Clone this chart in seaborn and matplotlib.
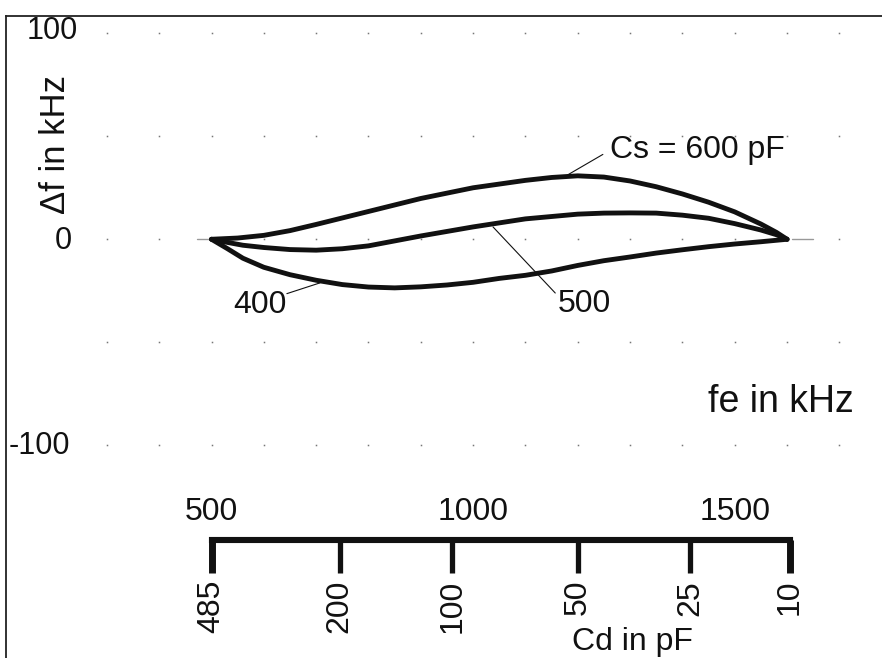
import numpy as np
import pandas as pd
import matplotlib
matplotlib.use("Agg")
import matplotlib.pyplot as plt
import matplotlib.transforms as mtransforms
import seaborn as sns

# ---------------- data ----------------
fe_600 = [500, 550, 600, 650, 700, 800, 900, 1000, 1100, 1150, 1200, 1250, 1300, 1350, 1400, 1450, 1500, 1550, 1580, 1600]
df_600 = [0, 0.6, 1.9, 4.2, 7.2, 13.5, 19.8, 25.0, 28.6, 30.0, 30.8, 30.2, 28.3, 25.5, 22.0, 18.0, 13.3, 7.4, 3.3, 0]

fe_500 = [500, 530, 560, 600, 650, 700, 750, 800, 850, 900, 1000, 1100, 1200, 1250, 1300, 1350, 1400, 1450, 1500, 1550, 1580, 1600]
df_500 = [0, -1.5, -2.9, -4.0, -5.0, -5.3, -4.6, -3.2, -0.8, 1.6, 6.0, 9.9, 12.2, 12.7, 12.8, 12.7, 11.7, 10.2, 7.6, 4.5, 2.2, 0]

fe_400 = [500, 530, 560, 600, 650, 700, 750, 800, 850, 900, 950, 1000, 1050, 1100, 1150, 1200, 1250, 1300, 1350, 1400, 1450, 1500, 1550, 1600]
df_400 = [0, -4.5, -9.2, -13.6, -17.2, -19.9, -22.0, -23.2, -23.6, -23.1, -22.2, -20.9, -19.0, -17.5, -15.4, -12.7, -10.4, -8.6, -6.7, -5.1, -3.6, -2.3, -1.2, 0]

y_ticks = [100, 0, -100]
y_tick_labels = ["100", "0", "-100"]

fe_scale_vals = [500, 1000, 1500]
cd_labels = ["485", "200", "100", "50", "25", "10"]
cd_fe_pos = [500, 745, 960, 1200, 1415, 1605]

grid_fe = list(range(300, 1701, 100))
grid_df = [100, 50, 0, -50, -100]

# ---------------- style ----------------
sns.set_theme(style="white")
plt.rcParams["font.family"] = ["Liberation Sans", "DejaVu Sans"]

W, H = 882, 658
fig = plt.figure(figsize=(W / 100, H / 100), dpi=100)
fig.patch.set_facecolor("white")
ax = fig.add_axes([6 / W, 0, 1 - 6 / W, 1 - 16 / H])
ax.set_facecolor("white")
ax.set_xlim(107.2, 1781.5)
ax.set_ylim(-203.3, 108.4)
for s in ["right", "bottom"]:
    ax.spines[s].set_visible(False)
for s in ["left", "top"]:
    ax.spines[s].set_color("#222222")
    ax.spines[s].set_linewidth(1.3)
ax.set_xticks([])
ax.set_yticks([])

ink = "#111111"

# grid dots
gx, gy = np.meshgrid(grid_fe, grid_df)
ax.plot(gx.ravel(), gy.ravel(), linestyle="none", marker="s", ms=1.1,
        color="#777777", mew=0, zorder=1)

# curves
long = pd.concat([
    pd.DataFrame({"fe": fe_600, "df": df_600, "Cs": "600"}),
    pd.DataFrame({"fe": fe_500, "df": df_500, "Cs": "500"}),
    pd.DataFrame({"fe": fe_400, "df": df_400, "Cs": "400"}),
], ignore_index=True)
sns.lineplot(data=long, x="fe", y="df", hue="Cs", units="Cs", estimator=None,
             sort=False, palette={"600": ink, "500": ink, "400": ink},
             linewidth=3.5, legend=False, ax=ax, zorder=3)
for ln in ax.get_lines()[1:]:
    ln.set_solid_joinstyle("round")
    ln.set_solid_capstyle("round")
ax.set_xlabel("")
ax.set_ylabel("")

# small gray stubs at the ends on the zero line
ax.plot([472, 500], [0, 0], color="#999999", lw=1.0, zorder=2)
ax.plot([1610, 1650], [0, 0], color="#999999", lw=1.0, zorder=2)

# y labels
xr = {"100": 0.0822, "0": 0.0755, "-100": 0.0735}
trans_y = mtransforms.blended_transform_factory(ax.transAxes, ax.transData)
for v, lab in zip(y_ticks, y_tick_labels):
    ax.text(xr[lab], v + (1.0 if v == 100 else -0.6), lab, transform=trans_y,
            ha="right", va="center", fontsize=22, color=ink)

ax.text(0.057, 46, "\u0394f in kHz", transform=trans_y, rotation=90,
        ha="center", va="center", fontsize=25, color=ink)

ax.text(1449, -83.8, "fe in kHz", ha="left", va="baseline", fontsize=27, color=ink)

# annotations
ax.text(1262, 39.5, "Cs = 600 pF", ha="left", va="baseline", fontsize=23, color=ink)
ax.plot([1248, 1179], [41.2, 31.0], color=ink, lw=0.8)
ax.text(541, -35.6, "400", ha="left", va="baseline", fontsize=23, color=ink)
ax.plot([644, 707], [-26.4, -21.2], color=ink, lw=0.8)
ax.text(1162, -35.1, "500", ha="left", va="baseline", fontsize=23, color=ink)
ax.plot([1157, 1038], [-26.1, 6.0], color=ink, lw=0.8)

# scale bar
bar_y = -146.0
tick_bot = -162.0
ax.plot([cd_fe_pos[0], cd_fe_pos[-1]], [bar_y, bar_y], color=ink, lw=4.4,
        solid_capstyle="projecting")
for i, (x, lab) in enumerate(zip(cd_fe_pos, cd_labels)):
    lw = 5.0 if i in (0, len(cd_fe_pos) - 1) else 3.8
    ax.plot([x, x], [bar_y, tick_bot], color=ink, lw=lw, solid_capstyle="butt")
    ax.text(x, -165.4, lab, rotation=90, ha="center", va="top", fontsize=23, color=ink)
for v in fe_scale_vals:
    ax.text(v, -136.2, str(v), ha="center", va="baseline", fontsize=23, color=ink)
ax.text(1189, -199.4, "Cd in pF", ha="left", va="baseline", fontsize=23, color=ink)

fig.savefig("out.png", dpi=100, facecolor="white")
